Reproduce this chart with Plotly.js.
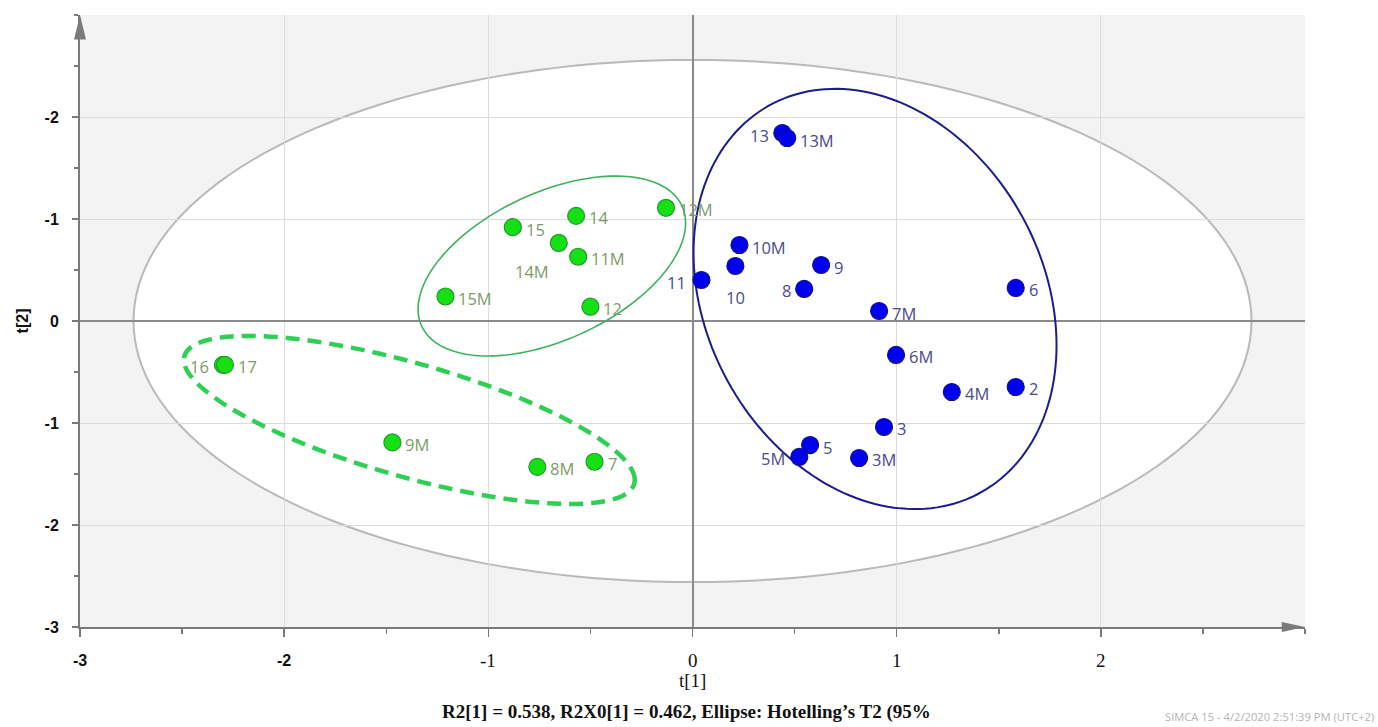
<!DOCTYPE html>
<html>
<head>
<meta charset="utf-8">
<script src="https://cdn.plot.ly/plotly-3.0.1.min.js"></script>
<style>
  html, body { margin: 0; padding: 0; background: #ffffff; }
  #chart { width: 1378px; height: 727px; }
</style>
</head>
<body>
<div id="chart"></div>
<script>
// ---- Data (t[1], t[2] scores) ----
const greenLabels = ['16', '17', '9M', '8M', '7', '15M', '12', '15', '14', '14M', '11M', '12M'];
const greenT1 = [-2.30, -2.29, -1.47, -0.76, -0.48, -1.21, -0.50, -0.88, -0.57, -0.655, -0.56, -0.13];
const greenT2 = [-0.43, -0.43, -1.19, -1.43, -1.38, 0.24, 0.14, 0.92, 1.03, 0.765, 0.63, 1.11];

const blueLabels = ['13', '13M', '10M', '10', '11', '9', '8', '7M', '6', '6M', '4M', '2', '3', '5', '5M', '3M'];
const blueT1 = [0.44, 0.464, 0.23, 0.21, 0.044, 0.63, 0.547, 0.914, 1.583, 0.997, 1.27, 1.583, 0.938, 0.576, 0.523, 0.816];
const blueT2 = [1.843, 1.794, 0.745, 0.539, 0.402, 0.549, 0.314, 0.098, 0.324, -0.333, -0.696, -0.647, -1.039, -1.216, -1.333, -1.343];

const xTickVals = [-3, -2, -1, 0, 1, 2];
const xTickText = ['-3', '-2', '-1', '0', '1', '2'];
const yTickVals = [-3, -2, -1, 0, 1, 2];
const yTickText = ['-3', '-2', '-1', '0', '-1', '-2'];

// Ellipses: centre, half extents along t[1] and t[2], correlation
const hotellingEllipse = { cx: 0, cy: 0, sx: 2.738, sy: 2.56, rho: 0 };
const greenGroupEllipse = { cx: -0.689, cy: 0.539, sx: 0.655, sy: 0.882, rho: 0.478 };
const greenDashedEllipse = { cx: -1.387, cy: -0.97, sx: 1.104, sy: 0.824, rho: -0.714 };
const blueGroupEllipse = { cx: 0.894, cy: 0.216, sx: 0.889, sy: 2.06, rho: -0.22 };

const captionText = "R2[1] = 0.538, R2X0[1] = 0.462, Ellipse: Hotelling\u2019s T2 (95%";
const stampText = "SIMCA 15 - 4/2/2020 2:51:39 PM (UTC+2)";

// ---- Helpers ----
function ellipsePath(e) {
  const n = 180;
  const k = Math.sqrt(1 - e.rho * e.rho);
  let d = '';
  for (let i = 0; i <= n; i++) {
    const t = 2 * Math.PI * i / n;
    const x = e.cx + e.sx * Math.cos(t);
    const y = e.cy + e.sy * (e.rho * Math.cos(t) + k * Math.sin(t));
    d += (i === 0 ? 'M ' : ' L ') + x.toFixed(4) + ',' + y.toFixed(4);
  }
  return d + ' Z';
}

// label placement style (keyed by label)
const labelStyle = {
  '16': { xanchor: 'right', xshift: -12 },
  '13': { xanchor: 'right', xshift: -11 },
  '11': { xanchor: 'right', xshift: -13 },
  '8': { xanchor: 'right', xshift: -11 },
  '5M': { xanchor: 'right', xshift: -12 },
  '10': { xanchor: 'center', yanchor: 'top', xshift: 0, yshift: -18 },
  '14M': { xanchor: 'right', yanchor: 'top', xshift: -8, yshift: -15 }
};

function labelAnnotations(labels, xs, ys, color) {
  return labels.map((lab, i) => {
    const s = labelStyle[lab] || {};
    return {
      x: xs[i], y: ys[i], xref: 'x', yref: 'y', text: lab, showarrow: false,
      xanchor: s.xanchor || 'left', yanchor: s.yanchor || 'middle',
      xshift: s.xshift !== undefined ? s.xshift : 11,
      yshift: s.yshift !== undefined ? s.yshift : -2,
      font: { family: 'Open Sans, sans-serif', size: 16.5, color: color }
    };
  });
}

// x tick labels: the first two are bold sans, the others serif (as in the picture)
function xTickAnnotations() {
  return xTickVals.map((v, i) => {
    const sans = v <= -2;
    return {
      x: v, xref: 'x', y: -0.054, yref: 'paper', text: xTickText[i], showarrow: false,
      xanchor: 'center', yanchor: 'middle',
      font: sans
        ? { family: 'Liberation Sans, sans-serif', size: 16, color: '#111111', weight: 'bold' }
        : { family: 'Liberation Serif, serif', size: 19, color: '#111111' }
    };
  });
}

const traces = [
  {
    type: 'scatter', mode: 'markers', x: greenT1, y: greenT2, text: greenLabels,
    marker: { size: 17, color: '#14e014', line: { color: '#1f9a2a', width: 1.2 } },
    hoverinfo: 'text', showlegend: false
  },
  {
    type: 'scatter', mode: 'markers', x: blueT1, y: blueT2, text: blueLabels,
    marker: { size: 17, color: '#0000f0', line: { color: '#10108a', width: 1.2 } },
    hoverinfo: 'text', showlegend: false
  }
];

const shapes = [
  { type: 'path', xref: 'x', yref: 'y', path: ellipsePath(hotellingEllipse), layer: 'below',
    fillcolor: '#ffffff', line: { color: '#b9b9b9', width: 2 } },
  { type: 'path', xref: 'x', yref: 'y', path: ellipsePath(greenGroupEllipse), layer: 'between',
    line: { color: '#3fb15e', width: 1.6 } },
  { type: 'path', xref: 'x', yref: 'y', path: ellipsePath(greenDashedEllipse), layer: 'between',
    line: { color: '#2fcf55', width: 4.5, dash: '14px,8px' } },
  { type: 'path', xref: 'x', yref: 'y', path: ellipsePath(blueGroupEllipse), layer: 'between',
    line: { color: '#1c1c8e', width: 2 } },
  // axis arrow heads
  { type: 'path', xref: 'paper', yref: 'paper',
    path: 'M -0.0049,0.960 L 0,1.0 L 0.0049,0.960 Z', fillcolor: '#7a7a7a', line: { width: 0 } },
  { type: 'path', xref: 'paper', yref: 'paper',
    path: 'M 0.981,0.0082 L 1.0,0 L 0.981,-0.0082 Z', fillcolor: '#7a7a7a', line: { width: 0 } }
];

const annotations = []
  .concat(labelAnnotations(greenLabels, greenT1, greenT2, '#7d9a68'))
  .concat(labelAnnotations(blueLabels, blueT1, blueT2, '#4a4a8c'))
  .concat(xTickAnnotations())
  .concat([
    { xref: 'paper', yref: 'paper', x: 0.5, y: -0.087, text: 't[1]', showarrow: false,
      xanchor: 'center', yanchor: 'middle',
      font: { family: 'Liberation Serif, serif', size: 19, color: '#111111' } },
    { xref: 'paper', yref: 'paper', x: 0.495, y: -0.139, text: captionText, showarrow: false,
      xanchor: 'center', yanchor: 'middle',
      font: { family: 'Liberation Serif, serif', size: 19, color: '#111111', weight: 'bold' } },
    { xref: 'paper', yref: 'paper', x: 1.058, y: -0.147, text: stampText, showarrow: false,
      xanchor: 'right', yanchor: 'middle',
      font: { family: 'Open Sans, sans-serif', size: 11.2, color: '#b4b4b4' } },
    { xref: 'paper', yref: 'paper', x: -0.047, y: 0.5, text: '<b>t[2]</b>', showarrow: false,
      textangle: -90, xanchor: 'center', yanchor: 'middle',
      font: { family: 'Liberation Sans, sans-serif', size: 16, color: '#111111' } }
  ]);

const layout = {
  width: 1378, height: 727,
  margin: { l: 80, r: 73, t: 15, b: 100 },
  paper_bgcolor: '#ffffff', plot_bgcolor: '#f3f3f3',
  showlegend: false,
  xaxis: {
    range: [-3, 3], tickmode: 'array', tickvals: xTickVals, ticktext: xTickText,
    showticklabels: false,
    showgrid: true, gridcolor: '#dcdcdc', gridwidth: 1,
    zeroline: true, zerolinecolor: '#8a8a8a', zerolinewidth: 2,
    showline: true, linecolor: '#7a7a7a', linewidth: 2,
    ticks: 'outside', ticklen: 8, tickcolor: '#7a7a7a', tickwidth: 1.5,
    minor: { dtick: 0.5, tick0: 0, ticks: 'outside', ticklen: 5, tickcolor: '#7a7a7a', showgrid: false },
    fixedrange: true
  },
  yaxis: {
    range: [-3, 3], tickmode: 'array', tickvals: yTickVals, ticktext: yTickText,
    showgrid: true, gridcolor: '#dcdcdc', gridwidth: 1,
    zeroline: true, zerolinecolor: '#8a8a8a', zerolinewidth: 2,
    showline: true, linecolor: '#7a7a7a', linewidth: 2,
    ticks: 'outside', ticklen: 6, tickcolor: '#7a7a7a', tickwidth: 1.5,
    minor: { dtick: 0.5, tick0: 0, ticks: 'outside', ticklen: 4, tickcolor: '#7a7a7a', showgrid: false },
    ticklabelstandoff: 10,
    tickfont: { family: 'Liberation Sans, sans-serif', size: 16, color: '#111111', weight: 'bold' },
    fixedrange: true
  },
  shapes: shapes,
  annotations: annotations
};

Plotly.newPlot('chart', traces, layout, { displayModeBar: false, staticPlot: true });
</script>
</body>
</html>
